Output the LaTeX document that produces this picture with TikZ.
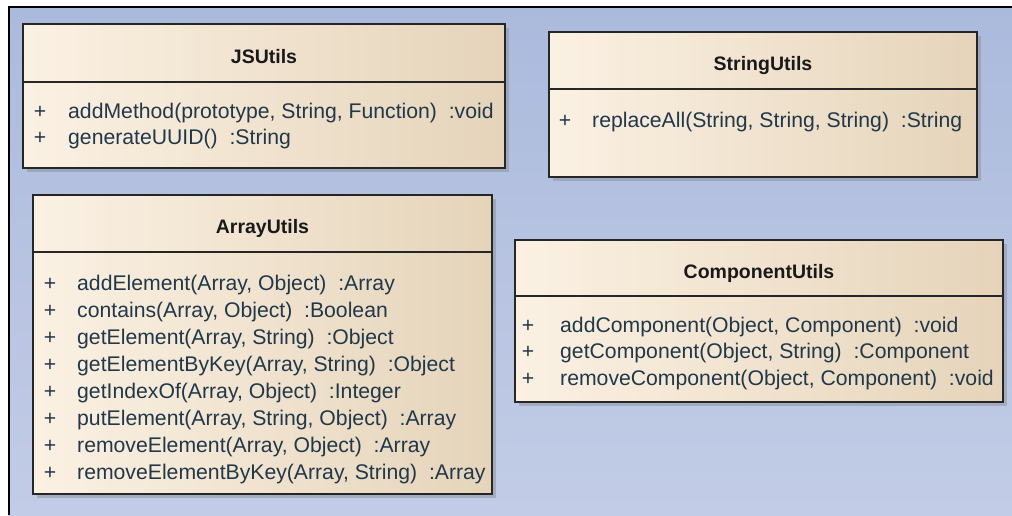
\documentclass[tikz,border=0pt]{standalone}
\usepackage{fontspec}
\setmainfont{Liberation Sans}
\usetikzlibrary{shadows}

\definecolor{bgtop}{HTML}{ABBADC}
\definecolor{bgbot}{HTML}{C2CCE6}
\definecolor{creamL}{HTML}{FBF1E3}
\definecolor{creamM}{HTML}{F7ECDB}
\definecolor{creamR}{HTML}{E5D4BA}
\definecolor{edge}{HTML}{262626}
\definecolor{memtext}{HTML}{21384A}
\definecolor{shadowc}{HTML}{8E949E}

\tikzset{
  classbox/.style={draw=edge, line width=1.6pt, inner sep=0pt,
    left color=creamL, middle color=creamM, right color=creamR,
    drop shadow={shadow xshift=4pt, shadow yshift=-4pt, fill=shadowc, opacity=0.55}},
  divider/.style={draw=edge, line width=1.5pt},
  classtitle/.style={font=\fontsize{19.5}{22}\selectfont\bfseries, text=black!90, inner sep=0pt},
  member/.style={font=\fontsize{21.2}{24}\selectfont, text=memtext, inner sep=0pt, anchor=base west},
  vis/.style={member, anchor=base},
}

\begin{document}
\begin{tikzpicture}[x=1pt,y=-1pt]
\useasboundingbox (0,0) rectangle (1012,515);
\fill[white] (0,0) rectangle (1012,515);
% diagram canvas with its frame
\shade[top color=bgtop, bottom color=bgbot] (8,6) rectangle (1012,515);
\draw[black, line width=2.6pt] (8.8,515) -- (8.8,6.8) -- (1012,6.8);

% ---------- JSUtils ----------
\node[classbox, minimum width=482pt, minimum height=144pt] (js) at (264,96) {};
\draw[divider] (js.west |- 0,82) -- (js.east |- 0,82);
\node[classtitle] (js-title) at (264,57) {JSUtils};
\node[vis] (js-v1) at (40,118) {+};
\node[member] (js-m1) at (68,118) {addMethod(prototype, String, Function) \ :void};
\node[vis] (js-v2) at (40,144) {+};
\node[member] (js-m2) at (68,144) {generateUUID() \ :String};

% ---------- StringUtils ----------
\node[classbox, minimum width=428pt, minimum height=145pt] (str) at (763,104.5) {};
\draw[divider] (str.west |- 0,89) -- (str.east |- 0,89);
\node[classtitle] (str-title) at (763,65) {StringUtils};
\node[vis] (str-v1) at (565,127) {+};
\node[member] (str-m1) at (592,127) {replaceAll(String, String, String) \ :String};

% ---------- ArrayUtils ----------
\node[classbox, minimum width=459pt, minimum height=299pt] (arr) at (262.5,344.5) {};
\draw[divider] (arr.west |- 0,252) -- (arr.east |- 0,252);
\node[classtitle] (arr-title) at (262.5,228) {ArrayUtils};
\foreach \txt [count=\i] in {
    {addElement(Array, Object) \ :Array},
    {contains(Array, Object) \ :Boolean},
    {getElement(Array, String) \ :Object},
    {getElementByKey(Array, String) \ :Object},
    {getIndexOf(Array, Object) \ :Integer},
    {putElement(Array, String, Object) \ :Array},
    {removeElement(Array, Object) \ :Array},
    {removeElementByKey(Array, String) \ :Array}} {
  \pgfmathsetmacro{\rowy}{290 + 27*(\i-1)}
  \node[vis] (arr-v\i) at (50,\rowy) {+};
  \node[member] (arr-m\i) at (77,\rowy) {\txt};
}

% ---------- ComponentUtils ----------
\node[classbox, minimum width=488pt, minimum height=162pt] (cmp) at (759,321) {};
\draw[divider] (cmp.west |- 0,296) -- (cmp.east |- 0,296);
\node[classtitle] (cmp-title) at (759,273) {ComponentUtils};
\node[vis] (cmp-v1) at (528,332) {+};
\node[member] (cmp-m1) at (560,332) {addComponent(Object, Component) \ :void};
\node[vis] (cmp-v2) at (528,358.5) {+};
\node[member] (cmp-m2) at (560,358.5) {getComponent(Object, String) \ :Component};
\node[vis] (cmp-v3) at (528,385) {+};
\node[member] (cmp-m3) at (560,385) {removeComponent(Object, Component) \ :void};
\end{tikzpicture}
\end{document}
